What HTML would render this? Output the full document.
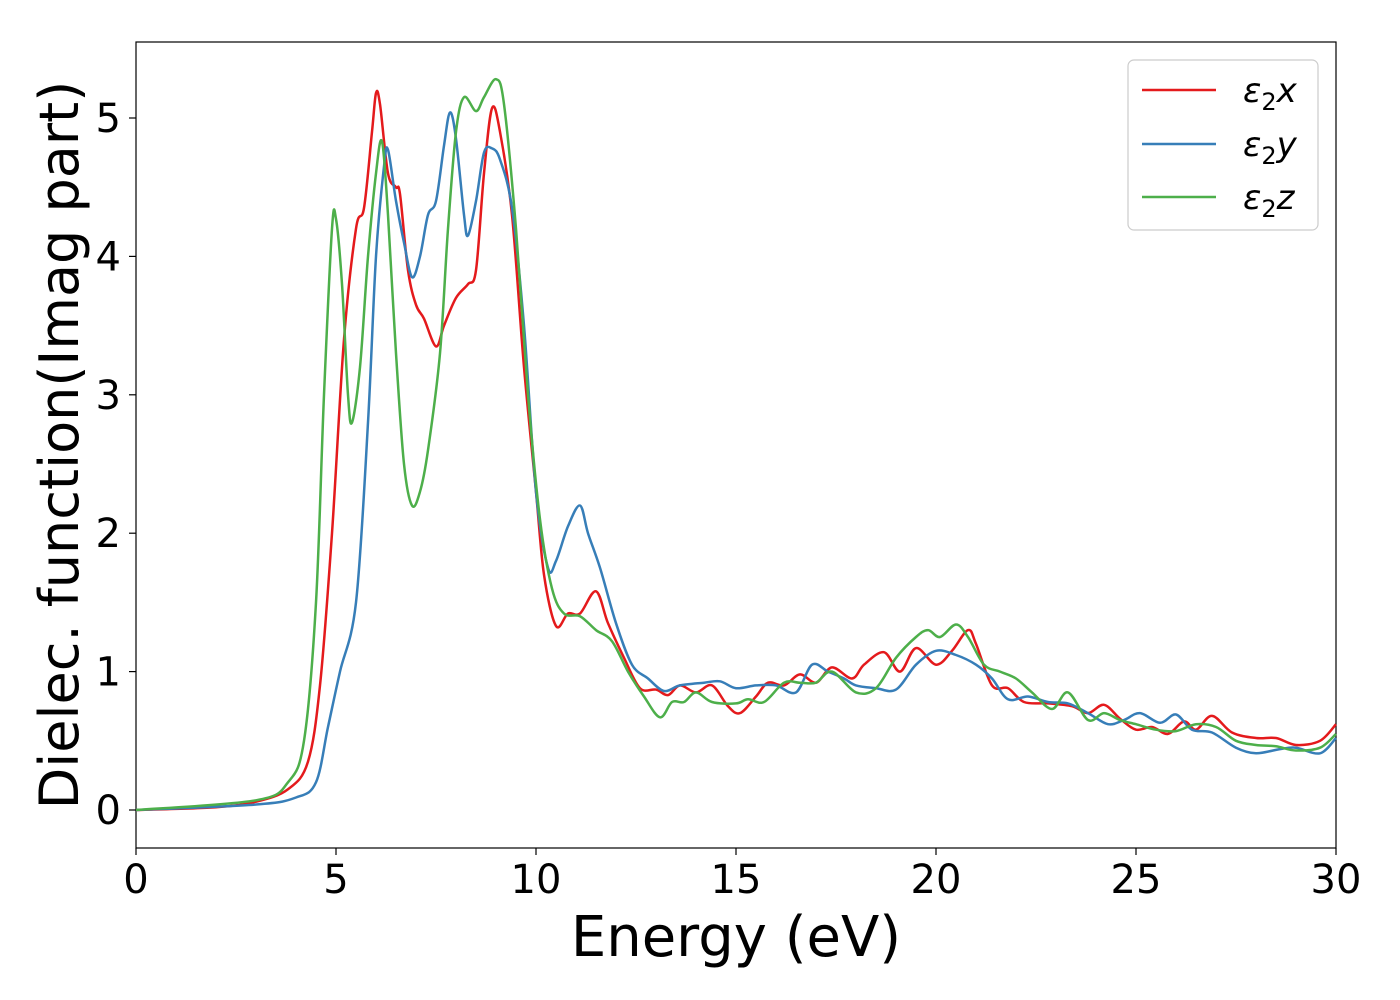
<!DOCTYPE html>
<html><head><meta charset="utf-8"><style>body{margin:0;background:#fff}svg{display:block}text{font-family:"DejaVu Sans","Liberation Sans",sans-serif}</style></head>
<body>
<svg id="chart" width="1400" height="1000" viewBox="0 0 1400 1000" xmlns="http://www.w3.org/2000/svg">
<rect x="136" y="42" width="1200" height="806" fill="#fff" stroke="#000" stroke-width="1.2"/>
<g id="xticks"></g>
<g id="yticks"></g>
<g id="series"></g>
<text x="736" y="956" font-size="56" text-anchor="middle">Energy (eV)</text>
<text transform="translate(78,445) rotate(-90)" font-size="54" text-anchor="middle">Dielec. function(Imag part)</text>
<g>
<rect x="1128" y="60" width="190" height="170" rx="6" fill="#fff" stroke="#ccc" stroke-width="1.2"/>
<line x1="1142" y1="90" x2="1216" y2="90" stroke="#e41a1c" stroke-width="2.5"/>
<text x="1243" y="102" font-size="34" font-style="italic">ε<tspan font-style="normal" font-size="24" dy="8">2</tspan><tspan dy="-8">x</tspan></text>
<line x1="1142" y1="144" x2="1216" y2="144" stroke="#377eb8" stroke-width="2.5"/>
<text x="1243" y="156" font-size="34" font-style="italic">ε<tspan font-style="normal" font-size="24" dy="8">2</tspan><tspan dy="-8">y</tspan></text>
<line x1="1142" y1="197" x2="1216" y2="197" stroke="#4daf4a" stroke-width="2.5"/>
<text x="1243" y="209" font-size="34" font-style="italic">ε<tspan font-style="normal" font-size="24" dy="8">2</tspan><tspan dy="-8">z</tspan></text>
</g>
</svg>
<script>
const xTicks=[0,5,10,15,20,25,30];
const yTicks=[0,1,2,3,4,5];
const redX=[0,2,3,3.8,4.3,4.6,4.9,5.2,5.5,5.7,5.9,6.0,6.1,6.3,6.5,6.6,6.8,7.0,7.2,7.5,7.7,8.0,8.3,8.5,8.7,8.9,9.1,9.4,9.7,10.0,10.2,10.5,10.8,11.1,11.5,11.8,12.2,12.6,13.0,13.3,13.6,14.0,14.4,14.8,15.1,15.5,15.8,16.2,16.6,17.0,17.4,17.9,18.2,18.7,19.1,19.5,20.0,20.4,20.8,21.0,21.4,21.8,22.2,22.8,23.4,23.8,24.2,24.6,25.0,25.4,25.8,26.2,26.5,26.9,27.4,28.0,28.5,29.0,29.6,30];
const redY=[0,0.02,0.06,0.15,0.35,0.9,2.0,3.4,4.2,4.35,4.9,5.18,5.1,4.6,4.5,4.45,3.9,3.65,3.55,3.35,3.5,3.7,3.8,3.9,4.6,5.07,4.9,4.3,3.2,2.3,1.7,1.33,1.42,1.42,1.58,1.35,1.1,0.88,0.87,0.83,0.9,0.85,0.9,0.75,0.7,0.82,0.92,0.9,0.98,0.92,1.03,0.95,1.05,1.14,1.0,1.17,1.05,1.15,1.3,1.2,0.9,0.88,0.78,0.77,0.75,0.7,0.76,0.66,0.58,0.6,0.55,0.64,0.58,0.68,0.56,0.52,0.52,0.47,0.5,0.62];
const blueX=[0,3,4,4.5,4.8,5.1,5.5,5.8,6.0,6.2,6.3,6.5,6.7,6.9,7.1,7.3,7.5,7.7,7.85,8.0,8.2,8.3,8.5,8.7,8.9,9.1,9.4,9.7,10.0,10.3,10.5,10.8,11.1,11.3,11.6,12.0,12.4,12.8,13.2,13.6,14.2,14.6,15.0,15.5,16.0,16.5,16.9,17.3,17.7,18.0,18.5,19.0,19.5,20.0,20.5,21.0,21.4,21.8,22.3,22.8,23.3,23.8,24.3,24.7,25.1,25.6,26.0,26.4,26.9,27.5,28.0,28.6,29.0,29.6,30];
const blueY=[0,0.04,0.09,0.2,0.6,1.0,1.5,2.8,4.0,4.65,4.77,4.4,4.1,3.85,4.0,4.3,4.4,4.8,5.04,4.85,4.3,4.15,4.4,4.75,4.78,4.7,4.35,3.5,2.3,1.75,1.8,2.05,2.2,2.0,1.75,1.35,1.05,0.95,0.86,0.9,0.92,0.93,0.88,0.9,0.9,0.85,1.05,1.0,0.95,0.9,0.88,0.87,1.05,1.15,1.12,1.05,0.95,0.8,0.82,0.78,0.77,0.7,0.62,0.65,0.7,0.63,0.69,0.58,0.56,0.45,0.41,0.44,0.45,0.41,0.52];
const greenX=[0,3,3.8,4.2,4.5,4.7,4.9,5.0,5.15,5.3,5.4,5.6,5.8,6.0,6.15,6.3,6.5,6.7,6.9,7.1,7.3,7.6,7.8,8.0,8.2,8.5,8.7,9.0,9.2,9.5,9.8,10.1,10.4,10.7,11.1,11.5,11.9,12.3,12.7,13.1,13.4,13.7,14.0,14.4,15.0,15.3,15.7,16.2,16.6,17.0,17.4,18.0,18.5,19.0,19.5,19.8,20.1,20.5,20.8,21.2,21.6,22.0,22.4,22.9,23.3,23.8,24.2,24.6,25.0,25.5,26.0,26.5,27.0,27.5,28.0,28.5,29.0,29.6,30];
const greenY=[0,0.07,0.2,0.5,1.5,3.0,4.2,4.27,3.8,3.0,2.8,3.2,4.0,4.6,4.83,4.3,3.3,2.5,2.2,2.3,2.6,3.3,4.2,4.9,5.15,5.05,5.15,5.28,5.1,4.2,3.0,2.1,1.6,1.42,1.4,1.3,1.22,1.0,0.82,0.67,0.78,0.78,0.85,0.78,0.77,0.8,0.78,0.92,0.92,0.92,1.0,0.85,0.88,1.1,1.25,1.3,1.25,1.34,1.25,1.05,1.0,0.95,0.85,0.73,0.85,0.65,0.7,0.65,0.62,0.58,0.57,0.62,0.6,0.5,0.47,0.46,0.43,0.45,0.55];
const X=v=>136+v*40, Y=v=>810-v*138.4;
const NS="http://www.w3.org/2000/svg";
function mk(t,a,p){const e=document.createElementNS(NS,t);for(const k in a)e.setAttribute(k,a[k]);p.appendChild(e);return e;}
const xg=document.getElementById('xticks'),yg=document.getElementById('yticks'),sg=document.getElementById('series');
xTicks.forEach(t=>{const l=mk('line',{x1:X(t),x2:X(t),y1:848,y2:855,stroke:'#000','stroke-width':1.2},xg);


const tx=mk('text',{x:X(t),y:893,'font-size':40,'text-anchor':'middle'},xg);tx.textContent=t;

});
yTicks.forEach(t=>{const l=mk('line',{x1:129,x2:136,y1:Y(t),y2:Y(t),stroke:'#000','stroke-width':1.2},yg);


const tx=mk('text',{x:121,y:Y(t)+14,'font-size':40,'text-anchor':'end'},yg);tx.textContent=t;

});
function path(xs,ys){const p=xs.map((x,i)=>[X(x),Y(ys[i])]);let d='M'+p[0][0]+','+p[0][1];
for(let i=0;i<p.length-1;i++){const p0=p[i-1]||p[i],p1=p[i],p2=p[i+1],p3=p[i+2]||p2;
const c1=[p1[0]+(p2[0]-p0[0])/6,p1[1]+(p2[1]-p0[1])/6],c2=[p2[0]-(p3[0]-p1[0])/6,p2[1]-(p3[1]-p1[1])/6];
d+=`C${c1[0].toFixed(1)},${c1[1].toFixed(1)} ${c2[0].toFixed(1)},${c2[1].toFixed(1)} ${p2[0].toFixed(1)},${p2[1].toFixed(1)}`;}return d;}
[[redX,redY,'#e41a1c','series-eps2x'],[blueX,blueY,'#377eb8','series-eps2y'],[greenX,greenY,'#4daf4a','series-eps2z']].forEach(s=>{
const e=mk('path',{d:path(s[0],s[1]),fill:'none',stroke:s[2],'stroke-width':2.5},sg);

});
</script>
</body></html>
